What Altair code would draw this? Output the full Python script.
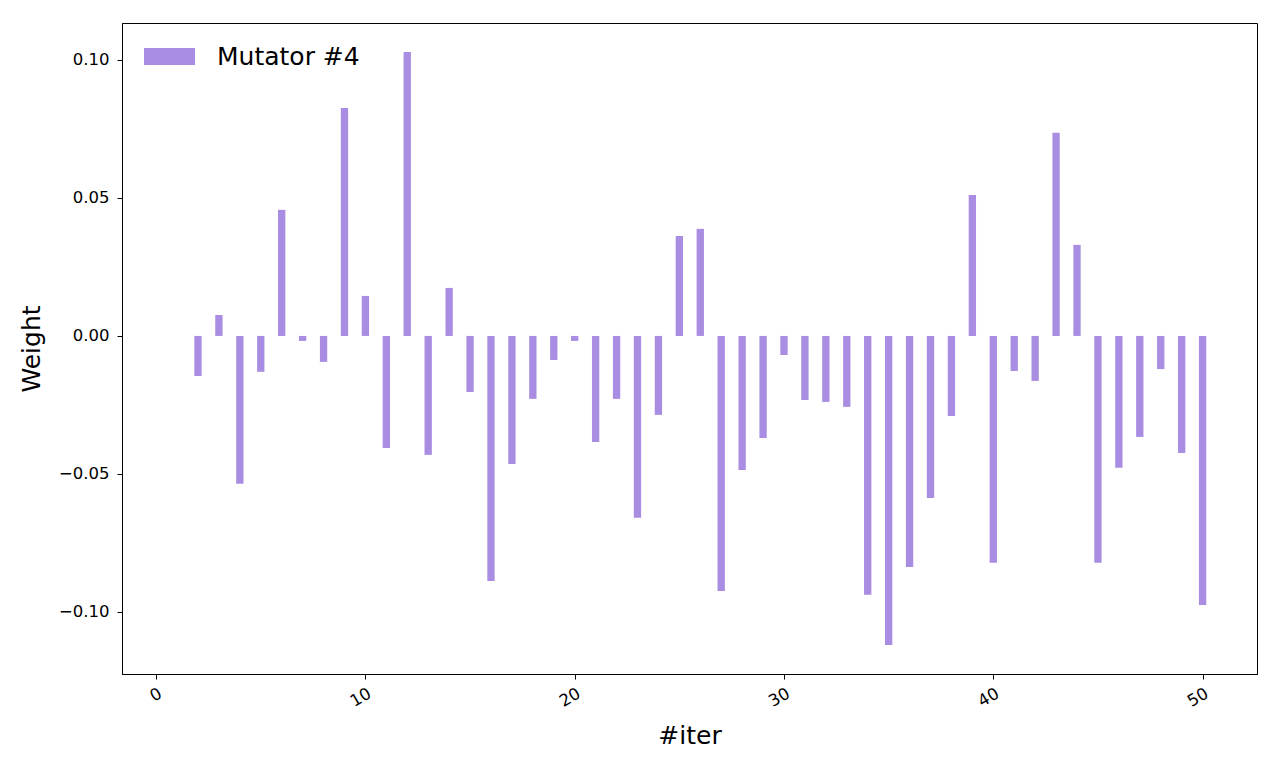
import altair as alt
import pandas as pd

iters = list(range(2, 51))
weights = [
    -0.0145, 0.0076, -0.0536, -0.0130, 0.0457, -0.0018, -0.0094, 0.0826, 0.0145,
    -0.0406, 0.1029, -0.0431, 0.0174, -0.0203, -0.0888, -0.0464, -0.0228, -0.0087,
    -0.0018, -0.0384, -0.0228, -0.0659, -0.0286, 0.0362, 0.0388, -0.0924, -0.0486,
    -0.0370, -0.0069, -0.0232, -0.0239, -0.0257, -0.0938, -0.1120, -0.0837, -0.0587,
    -0.0290, 0.0511, -0.0822, -0.0127, -0.0163, 0.0736, 0.0330, -0.0822, -0.0478,
    -0.0366, -0.0120, -0.0424, -0.0975,
]
series_name = "Mutator #4"
bar_half_width = 0.175

df = pd.DataFrame({"iter": iters, "weight": weights, "series": series_name})

FONT = "DejaVu Sans"
color = "#a98de2"

chart = (
    alt.Chart(df)
    .transform_calculate(x0=f"datum.iter - {bar_half_width}", x1=f"datum.iter + {bar_half_width}")
    .mark_bar(opacity=1)
    .encode(
        x=alt.X(
            "x0:Q",
            scale=alt.Scale(domain=[-1.63, 52.6], nice=False, zero=False),
            axis=alt.Axis(
                title="#iter",
                values=[0, 10, 20, 30, 40, 50],
                labelAngle=-30,
                labelAlign="right",
                labelBaseline="top",
                labelFontSize=16.5,
                titleFontSize=25,
                titleFontWeight="normal",
                titlePadding=14,
                tickSize=5,
                labelPadding=6,
            ),
        ),
        x2="x1:Q",
        y=alt.Y(
            "weight:Q",
            scale=alt.Scale(domain=[-0.1225, 0.1134], nice=False, zero=False),
            axis=alt.Axis(
                title="Weight",
                values=[-0.10, -0.05, 0.0, 0.05, 0.10],
                format=".2f",
                labelFontSize=16.5,
                titleFontSize=25,
                titleFontWeight="normal",
                titlePadding=14,
                tickSize=5,
                labelPadding=8,
            ),
        ),
        y2=alt.datum(0),
        color=alt.Color(
            "series:N",
            scale=alt.Scale(range=[color]),
            legend=alt.Legend(
                title=None,
                orient="none",
                legendX=22,
                legendY=8,
                symbolType="M-1,-0.333L1,-0.333L1,0.333L-1,0.333Z",
                symbolSize=2601,
                symbolStrokeWidth=0,
                symbolOpacity=1,
                labelFontSize=25,
                labelOffset=22,
                padding=0,
            ),
        ),
    )
    .properties(
        width=1135,
        height=651,
        padding={"left": 122, "top": 23, "right": 23, "bottom": 94},
        autosize=alt.AutoSizeParams(type="none"),
    )
    .configure(font=FONT)
    .configure_view(stroke="black", strokeWidth=1)
    .configure_axis(
        grid=False,
        domainColor="black",
        tickColor="black",
        labelColor="black",
        titleColor="black",
        labelFont=FONT,
        titleFont=FONT,
    )
    .configure_legend(labelFont=FONT, labelColor="black")
)

chart.save("out.html", embed_options={"renderer": "svg", "actions": False})
